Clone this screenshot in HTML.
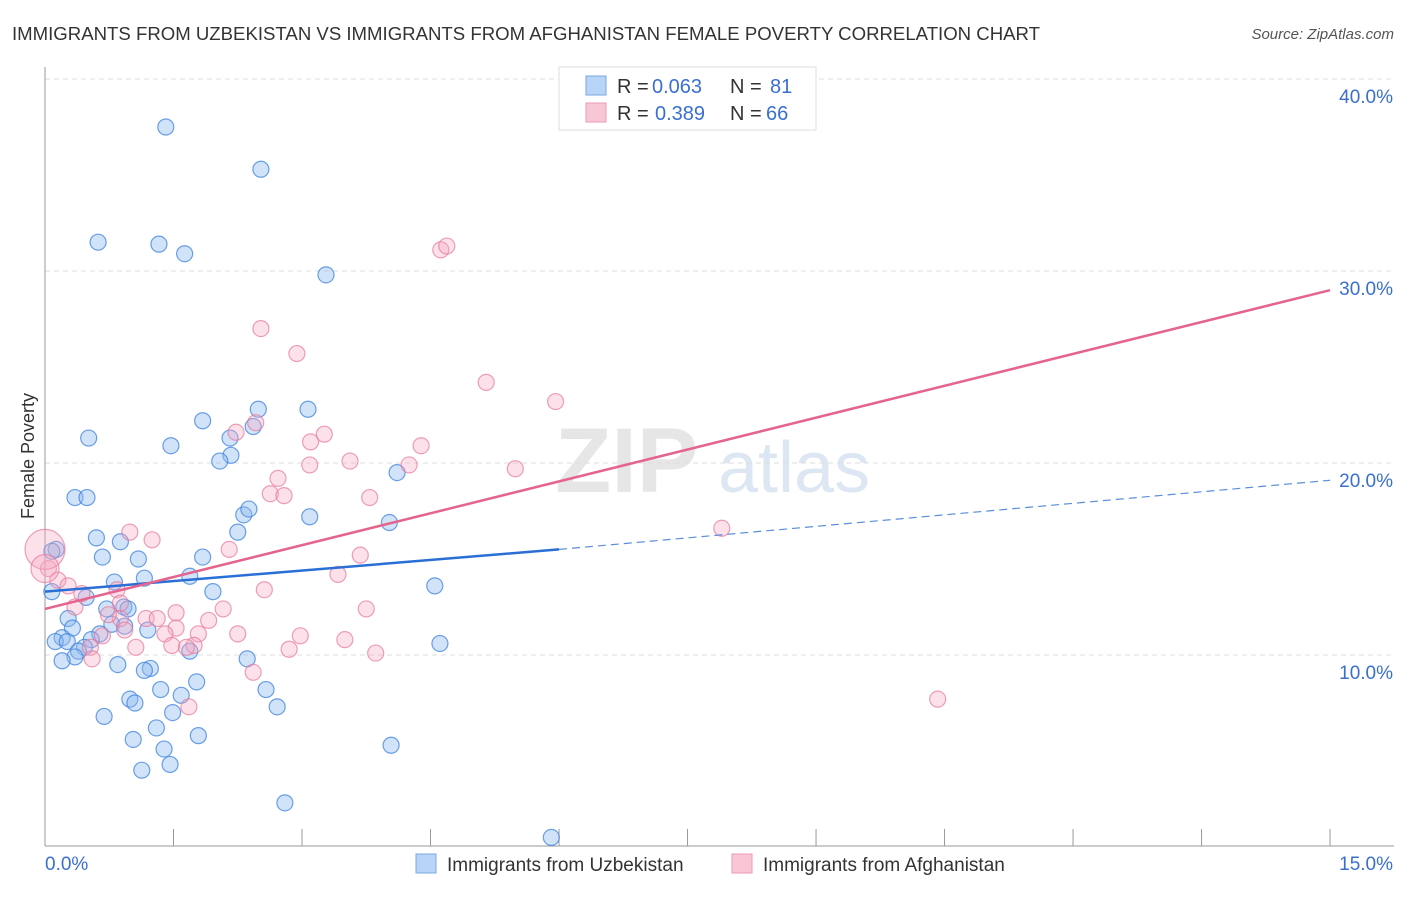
<!DOCTYPE html>
<html><head><meta charset="utf-8"><style>
body{margin:0;background:#fff;font-family:"Liberation Sans",sans-serif;}
svg text{font-family:"Liberation Sans",sans-serif;}
</style></head><body>
<svg id="chart" width="1406" height="892" xmlns="http://www.w3.org/2000/svg">
<text x="12" y="40" font-size="18" fill="#333" textLength="1028" lengthAdjust="spacingAndGlyphs">IMMIGRANTS FROM UZBEKISTAN VS IMMIGRANTS FROM AFGHANISTAN FEMALE POVERTY CORRELATION CHART</text>
<text x="1394" y="39" font-size="15" fill="#555" text-anchor="end" font-style="italic">Source: ZipAtlas.com</text>
<text x="555" y="492" font-size="92" fill="#e6e6e6" font-family="Liberation Serif" font-weight="bold">ZIP</text>
<text x="718" y="492" font-size="72" fill="#dde7f4">atlas</text>
<g id="grid"></g>
<g id="axes"></g>
<g id="pts"></g>
<g id="lines"></g>
<text transform="translate(34,456) rotate(-90)" font-size="18" fill="#333" text-anchor="middle">Female Poverty</text>
<g>
<rect x="559" y="67" width="257" height="63" fill="#fff" stroke="#ddd"/>
<rect x="586" y="76" width="20" height="19" fill="#b8d4f6" stroke="#7aa8e4"/>
<rect x="586" y="103" width="20" height="19" fill="#f9c6d5" stroke="#ec9ab4"/>
<text x="617" y="93" font-size="20" fill="#333">R =</text>
<text x="652" y="93" font-size="20" fill="#3a6fd0">0.063</text>
<text x="730" y="93" font-size="20" fill="#333">N =</text>
<text x="770" y="93" font-size="20" fill="#3a6fd0">81</text>
<text x="617" y="120" font-size="20" fill="#333">R =</text>
<text x="655" y="120" font-size="20" fill="#3a6fd0">0.389</text>
<text x="730" y="120" font-size="20" fill="#333">N =</text>
<text x="766" y="120" font-size="20" fill="#3a6fd0">66</text>
</g>
<g>
<rect x="416" y="854" width="20" height="19" fill="#b8d4f6" stroke="#7aa8e4"/>
<text x="447" y="871" font-size="19" fill="#333">Immigrants from Uzbekistan</text>
<rect x="732" y="854" width="20" height="19" fill="#f9c6d5" stroke="#ec9ab4"/>
<text x="763" y="871" font-size="19" fill="#333">Immigrants from Afghanistan</text>
</g>
</svg>
<script>
const blueX=[1.41,2.52,0.62,1.33,1.63,3.28,0.51,1.47,1.84,2.49,3.07,2.16,2.43,2.17,2.04,4.11,0.35,0.49,2.32,2.38,3.09,4.02,2.25,0.60,0.88,0.13,0.08,0.67,1.09,1.84,1.16,1.69,0.81,4.55,0.08,1.96,0.48,0.92,0.97,0.72,0.27,0.32,0.78,0.93,1.20,0.64,0.20,0.12,0.54,0.26,0.46,0.39,1.69,4.61,0.35,0.20,2.36,0.85,1.23,1.16,1.77,1.35,2.58,1.59,0.99,1.05,2.71,0.69,1.49,1.30,1.79,1.03,1.39,1.46,1.13,4.04,2.80,5.91];
const blueY=[37.5,35.3,31.5,31.4,30.9,29.8,21.3,20.9,22.2,22.8,22.8,21.3,21.9,20.4,20.1,19.5,18.2,18.2,17.3,17.6,17.2,16.9,16.4,16.1,15.9,15.5,15.4,15.1,15.0,15.1,14.0,14.1,13.8,13.6,13.3,13.3,13.0,12.5,12.4,12.4,11.9,11.4,11.6,11.5,11.3,11.1,10.9,10.7,10.8,10.7,10.4,10.2,10.2,10.6,9.9,9.7,9.8,9.5,9.3,9.2,8.6,8.2,8.2,7.9,7.7,7.5,7.3,6.8,7.0,6.2,5.8,5.6,5.1,4.3,4.0,5.3,2.3,0.5];
const pinkX=[4.62,4.69,2.52,2.94,5.15,5.96,2.46,2.23,3.26,3.10,4.39,3.56,3.09,4.25,5.49,2.72,2.63,2.79,3.79,0.99,1.25,2.15,3.68,7.90,0.04,0.15,0.27,2.56,3.42,0.43,3.75,2.08,0.35,0.84,1.18,1.31,1.53,0.88,0.74,1.53,0.93,1.91,1.40,2.25,1.79,2.98,3.50,1.74,0.67,1.06,0.53,1.48,2.85,3.86,1.65,0.55,2.43,1.68,10.42,0.88,0.0,0.0];
const pinkY=[31.1,31.3,27.0,25.7,24.2,23.2,22.1,21.6,21.5,21.1,20.9,20.1,19.9,19.9,19.7,19.2,18.4,18.3,18.2,16.4,16.0,15.5,15.2,16.6,14.5,13.9,13.6,13.4,14.2,13.2,12.4,12.4,12.5,13.4,11.9,11.9,12.2,11.9,12.1,11.4,11.3,11.8,11.1,11.1,11.1,11.0,10.8,10.5,11.0,10.4,10.4,10.5,10.3,10.1,10.4,9.8,9.1,7.3,7.7,12.7,15.5,14.5];
const pinkR=[8,8,8,8,8,8,8,8,8,8,8,8,8,8,8,8,8,8,8,8,8,8,8,8,8,8,8,8,8,8,8,8,8,8,8,8,8,8,8,8,8,8,8,8,8,8,8,8,8,8,8,8,8,8,8,8,8,8,8,8,20,14];
const yTicks=[10,20,30,40];
const yTickLabels=["10.0%","20.0%","30.0%","40.0%"];
const xTicks=[0,1.5,3,4.5,6,7.5,9,10.5,12,13.5,15];
const blueTrendX=[0,6.0,15];const blueTrendY=[13.3,15.5,19.1];
const pinkTrendX=[0,15];const pinkTrendY=[12.4,29.0];

const X=v=>45+v*85.67, Y=v=>847-v*19.2;
const NS="http://www.w3.org/2000/svg";
function mk(t,a,p){const e=document.createElementNS(NS,t);for(const k in a)e.setAttribute(k,a[k]);p.appendChild(e);return e;}
const grid=document.getElementById('grid'),axes=document.getElementById('axes'),pts=document.getElementById('pts'),lines=document.getElementById('lines');
yTicks.forEach((t,i)=>{
 const l=mk('line',{x1:45,x2:1394,y1:Y(t),y2:Y(t),stroke:'#ddd','stroke-dasharray':'5,4'},grid);
 
 
 const tx=mk('text',{x:1393,y:Y(t)+24,'font-size':19,fill:'#3a6fd0','text-anchor':'end'},axes);
 tx.textContent=yTickLabels[i];
 
 
});
const topLine=mk('line',{x1:45,x2:1394,y1:79,y2:79,stroke:'#ddd','stroke-dasharray':'5,4'},grid);


const ya=mk('line',{x1:45,x2:45,y1:67,y2:846,stroke:'#999'},axes);


const xa=mk('line',{x1:45,x2:1394,y1:846,y2:846,stroke:'#999'},axes);


xTicks.forEach(t=>{const l=mk('line',{x1:X(t),x2:X(t),y1:829,y2:846,stroke:'#999'},axes);
 
 });
const xl0=mk('text',{x:45,y:870,'font-size':19,fill:'#3a6fd0'},axes);xl0.textContent='0.0%';


const xl1=mk('text',{x:1393,y:870,'font-size':19,fill:'#3a6fd0','text-anchor':'end'},axes);xl1.textContent='15.0%';


blueX.forEach((v,i)=>{const c=mk('circle',{cx:X(v),cy:Y(blueY[i]),r:8,fill:'rgba(140,185,240,0.4)',stroke:'rgba(60,130,220,0.75)','stroke-width':1.2},pts);
 
 });
pinkX.forEach((v,i)=>{const c=mk('circle',{cx:X(v),cy:Y(pinkY[i]),r:pinkR[i],fill:'rgba(245,170,195,0.35)',stroke:'rgba(230,120,155,0.7)','stroke-width':1.2},pts);
 
 });
const bl=mk('line',{x1:X(blueTrendX[0]),y1:Y(blueTrendY[0]),x2:X(blueTrendX[1]),y2:Y(blueTrendY[1]),stroke:'#2a6fd6','stroke-width':2.5},lines);


const bd=mk('line',{x1:X(blueTrendX[1]),y1:Y(blueTrendY[1]),x2:X(blueTrendX[2]),y2:Y(blueTrendY[2]),stroke:'#5a8fd8','stroke-width':1.2,'stroke-dasharray':'8,5'},lines);


const pl=mk('line',{x1:X(pinkTrendX[0]),y1:Y(pinkTrendY[0]),x2:X(pinkTrendX[1]),y2:Y(pinkTrendY[1]),stroke:'#e4648e','stroke-width':2.5},lines);


</script>
</body></html>
